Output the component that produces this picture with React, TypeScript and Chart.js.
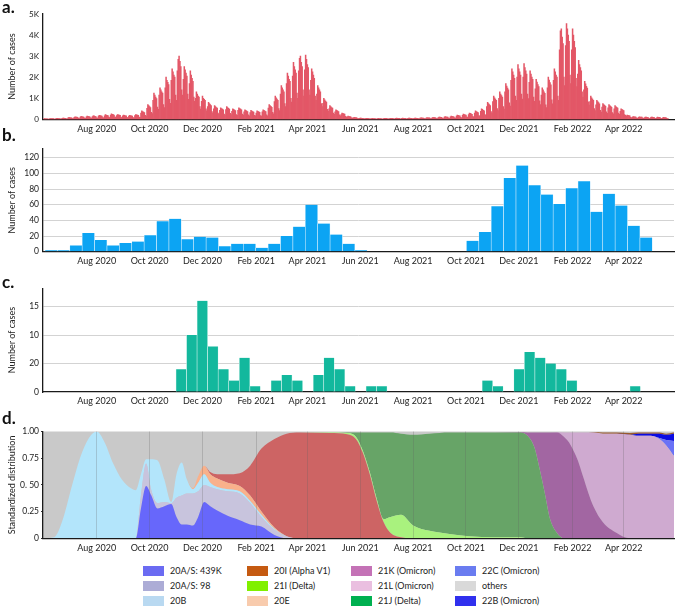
import React, { useEffect, useRef } from 'react';
import { Chart, registerables } from 'chart.js';

Chart.register(...registerables);

const FONT = 'Lato, "Liberation Sans", sans-serif';
const X_MIN = -1;
const X_MAX = 727;

// x axis: days since 1 June 2020
const monthTickDays = [61, 122, 183, 245, 304, 365, 426, 487, 548, 610, 669];
const monthTickLabels = ['Aug 2020', 'Oct 2020', 'Dec 2020', 'Feb 2021', 'Apr 2021', 'Jun 2021', 'Aug 2021', 'Oct 2021', 'Dec 2021', 'Feb 2022', 'Apr 2022'];

// a. daily cases (one row per week)
const dailyCases = [
  20, 30, 25, 25, 20, 10, 10,
  30, 40, 35, 30, 30, 15, 10,
  40, 50, 45, 40, 35, 20, 15,
  50, 60, 55, 50, 45, 25, 20,
  70, 90, 80, 75, 70, 40, 30,
  90, 120, 110, 100, 95, 50, 40,
  110, 140, 130, 120, 110, 60, 50,
  120, 150, 140, 130, 120, 70, 55,
  130, 170, 160, 145, 135, 75, 60,
  150, 190, 175, 160, 150, 85, 70,
  170, 220, 200, 185, 175, 100, 80,
  200, 260, 240, 220, 205, 120, 95,
  180, 230, 215, 195, 185, 105, 85,
  160, 200, 185, 170, 160, 90, 75,
  150, 190, 180, 165, 150, 85, 70,
  180, 230, 215, 200, 190, 110, 90,
  300, 400, 370, 340, 320, 190, 150,
  520, 700, 650, 600, 560, 330, 270,
  900, 1250, 1150, 1050, 980, 580, 470,
  1150, 1500, 1400, 1300, 1250, 700, 560,
  1500, 2000, 1850, 1750, 1650, 950, 760,
  1850, 2400, 2250, 2100, 2000, 1150, 900,
  2300, 2850, 3000, 2750, 2500, 1400, 1150,
  1900, 2500, 2350, 2200, 2050, 1200, 950,
  1700, 2300, 2100, 1950, 1800, 1050, 850,
  1000, 1300, 1200, 1100, 1050, 600, 480,
  850, 1100, 1000, 950, 900, 500, 400,
  600, 800, 750, 700, 650, 370, 300,
  500, 650, 600, 560, 530, 300, 240,
  420, 550, 510, 480, 450, 250, 200,
  460, 600, 560, 520, 490, 280, 220,
  380, 500, 470, 440, 410, 230, 190,
  420, 550, 510, 480, 450, 250, 200,
  350, 450, 420, 390, 370, 210, 170,
  320, 420, 390, 370, 340, 190, 160,
  300, 400, 380, 350, 330, 180, 150,
  350, 450, 420, 390, 370, 210, 170,
  530, 700, 650, 610, 570, 330, 260,
  840, 1100, 1020, 960, 900, 510, 410,
  1200, 1600, 1500, 1400, 1300, 750, 600,
  1700, 2200, 2050, 1900, 1800, 1000, 820,
  2050, 2700, 2500, 2350, 2200, 1250, 1000,
  2300, 2900, 3000, 2700, 2500, 1400, 1100,
  2350, 3050, 2850, 2600, 2450, 1400, 1150,
  1850, 2400, 2250, 2100, 1950, 1100, 900,
  1200, 1600, 1500, 1400, 1300, 750, 600,
  760, 1000, 930, 870, 820, 470, 380,
  500, 650, 600, 560, 530, 300, 240,
  350, 450, 420, 390, 370, 210, 170,
  230, 300, 280, 260, 250, 140, 110,
  120, 150, 140, 130, 120, 70, 55,
  70, 90, 85, 80, 75, 40, 35,
  45, 60, 55, 50, 50, 30, 25,
  40, 50, 45, 45, 40, 25, 20,
  35, 45, 40, 40, 35, 20, 15,
  35, 45, 40, 40, 35, 20, 15,
  40, 50, 45, 45, 40, 25, 20,
  40, 50, 45, 45, 40, 25, 20,
  45, 55, 50, 50, 45, 25, 20,
  45, 55, 50, 50, 45, 25, 20,
  45, 60, 55, 50, 50, 30, 25,
  45, 60, 55, 50, 50, 30, 25,
  55, 70, 65, 60, 55, 30, 25,
  60, 80, 75, 70, 65, 35, 30,
  70, 90, 85, 80, 75, 40, 35,
  85, 110, 100, 95, 90, 50, 40,
  100, 130, 120, 110, 105, 60, 50,
  115, 150, 140, 130, 120, 70, 55,
  150, 200, 185, 170, 160, 90, 75,
  190, 250, 230, 215, 200, 115, 95,
  230, 300, 280, 260, 240, 140, 110,
  300, 400, 370, 340, 320, 180, 150,
  380, 500, 470, 430, 400, 230, 190,
  600, 800, 750, 700, 650, 370, 300,
  840, 1100, 1020, 960, 900, 510, 410,
  1000, 1300, 1200, 1130, 1060, 600, 480,
  1300, 1700, 1580, 1480, 1400, 780, 630,
  1850, 2400, 2250, 2100, 1950, 1100, 900,
  2000, 2600, 2400, 2250, 2100, 1200, 960,
  2000, 2650, 2450, 2300, 2150, 1200, 980,
  1750, 2300, 2150, 2000, 1900, 1050, 850,
  1450, 1900, 1770, 1650, 1550, 880, 700,
  1150, 1500, 1400, 1300, 1230, 690, 560,
  1500, 2000, 1860, 1740, 1640, 920, 740,
  1850, 2400, 2250, 2100, 2000, 1100, 900,
  3300, 4200, 4300, 3900, 3600, 2000, 1600,
  3500, 4550, 4300, 4000, 3700, 2100, 1700,
  3300, 4300, 4000, 3700, 3400, 1950, 1550,
  2150, 2800, 2600, 2450, 2300, 1300, 1050,
  1400, 1800, 1680, 1570, 1480, 830, 670,
  840, 1100, 1020, 960, 900, 510, 410,
  690, 900, 840, 790, 740, 420, 340,
  580, 750, 700, 660, 620, 350, 280,
  540, 700, 650, 610, 570, 320, 260,
  500, 650, 600, 570, 530, 300, 240,
  380, 500, 470, 440, 410, 230, 190,
  150, 200, 190, 175, 165, 90, 75,
  100, 130, 120, 115, 105, 60, 50,
  90, 120, 110, 105, 100, 55, 45,
  85, 110, 100, 95, 90, 50, 40,
  85, 110, 100, 95, 90, 50, 40,
  75, 100, 95, 90, 80, 45, 40,
  70, 90, 85, 80, 75, 40, 35,
];
const aTickLabels = ['0', '1K', '2K', '3K', '4K', '5K'];

// b. sequenced cases per bin
const bFirstDay = 1.3;
const bBinDays = 14.3;
const bCases = [2, 2, 8, 24, 15, 8, 11, 13, 21, 39, 42, 16, 19, 18, 7, 10, 10, 5, 10, 20, 32, 60, 36, 22, 10, 2,
  0, 0, 0, 0, 0, 0, 0, 0,
  14, 25, 58, 94, 110, 85, 73, 61, 81, 90, 51, 74, 59, 33, 18];
const bTickLabels = ['0', '20', '40', '60', '80', '100', '120'];

// c. cases per bin
const cFirstDay = 152.4;
const cBinDays = 12.18;
const cCases = [4, 10, 16, 8, 4, 2, 6, 1, 0, 2, 3, 2, 0, 3, 6, 4, 1, 0, 1, 1,
  0, 0, 0, 0, 0, 0, 0, 0, 0, 2, 1, 0, 4, 7, 6, 5, 4, 2, 0, 0, 0, 0, 0, 1];
const cTickLabels = ['0', '20', '10', '15'];

// d. standardized distribution of clades
const dDays = [0, 12, 22, 32, 42, 52, 61, 70, 80, 90, 100, 106, 112, 118, 124, 131, 139, 147, 153, 159,
  165, 172, 178, 185, 192, 200, 212, 226, 238, 251, 266, 280, 295, 330, 350, 360, 368, 376, 384, 392,
  400, 412, 426, 445, 468, 490, 520, 550, 558, 566, 572, 578, 584, 592, 600, 608, 616, 622, 628, 634,
  645, 661, 676, 686, 700, 710, 718, 727];
const s439K = [0, 0, 0, 0, 0, 0, 0, 0, 0, 0, 0, 0, 0.28, 0.49, 0.40, 0.28, 0.30, 0.32, 0.20, 0.13,
  0.13, 0.12, 0.20, 0.34, 0.30, 0.26, 0.21, 0.17, 0.13, 0.11, 0.03, 0, 0, 0, 0, 0, 0, 0, 0, 0,
  0, 0, 0, 0, 0, 0, 0, 0, 0, 0, 0, 0, 0, 0, 0, 0, 0, 0, 0, 0, 0, 0, 0, 0, 0, 0, 0, 0];
const s98 = [0, 0, 0, 0, 0, 0, 0, 0, 0, 0, 0, 0, 0.12, 0.21, 0.05, 0.05, 0.04, 0.01, 0.18, 0.27,
  0.29, 0.30, 0.24, 0.16, 0.18, 0.20, 0.23, 0.25, 0.20, 0.09, 0.05, 0.02, 0, 0, 0, 0, 0, 0, 0, 0,
  0, 0, 0, 0, 0, 0, 0, 0, 0, 0, 0, 0, 0, 0, 0, 0, 0, 0, 0, 0, 0, 0, 0, 0, 0, 0, 0, 0];
const s20B = [0, 0.01, 0.18, 0.48, 0.76, 0.94, 1.0, 0.90, 0.70, 0.55, 0.47, 0.45, 0.20, 0.04, 0.29, 0.40, 0.21, 0.01, 0.22, 0.31,
  0.13, 0.04, 0.08, 0.10, 0.04, 0.02, 0.02, 0.02, 0.02, 0.02, 0.01, 0, 0, 0, 0, 0, 0, 0, 0, 0,
  0, 0, 0, 0, 0, 0, 0, 0, 0, 0, 0, 0, 0, 0, 0, 0, 0, 0, 0, 0, 0, 0, 0, 0, 0, 0, 0, 0];
const s20E = [0, 0, 0, 0, 0, 0, 0, 0, 0, 0, 0, 0, 0, 0, 0, 0, 0, 0, 0, 0,
  0, 0.01, 0.06, 0.08, 0.08, 0.08, 0.06, 0.05, 0.05, 0.03, 0.01, 0, 0, 0, 0, 0, 0, 0, 0, 0,
  0, 0, 0, 0, 0, 0, 0, 0, 0, 0, 0, 0, 0, 0, 0, 0, 0, 0, 0, 0, 0, 0, 0, 0, 0, 0, 0, 0];
const sAlpha = [0, 0, 0, 0, 0, 0, 0, 0, 0, 0, 0, 0, 0, 0, 0, 0, 0, 0, 0, 0,
  0, 0, 0, 0, 0.02, 0.04, 0.08, 0.12, 0.28, 0.59, 0.83, 0.96, 0.99, 0.985, 0.975, 0.93, 0.80, 0.60, 0.35, 0.15,
  0.05, 0.01, 0, 0, 0, 0, 0, 0, 0, 0, 0, 0, 0, 0, 0, 0, 0, 0, 0, 0, 0, 0, 0, 0, 0, 0, 0, 0];
const s21I = [0, 0, 0, 0, 0, 0, 0, 0, 0, 0, 0, 0, 0, 0, 0, 0, 0, 0, 0, 0,
  0, 0, 0, 0, 0, 0, 0, 0, 0, 0, 0, 0, 0, 0.005, 0.01, 0.02, 0.02, 0.02, 0.02, 0.03,
  0.15, 0.21, 0.12, 0.07, 0.04, 0.02, 0.01, 0.01, 0, 0, 0, 0, 0, 0, 0, 0, 0, 0, 0, 0, 0, 0, 0, 0, 0, 0, 0, 0];
const s21J = [0, 0, 0, 0, 0, 0, 0, 0, 0, 0, 0, 0, 0, 0, 0, 0, 0, 0, 0, 0,
  0, 0, 0, 0, 0, 0, 0, 0, 0, 0, 0, 0, 0, 0, 0.005, 0.04, 0.17, 0.37, 0.62, 0.81,
  0.79, 0.76, 0.85, 0.91, 0.95, 0.97, 0.98, 0.98, 0.96, 0.85, 0.65, 0.42, 0.18, 0.05, 0, 0, 0, 0, 0, 0,
  0, 0, 0, 0, 0, 0, 0, 0];
const s21K = [0, 0, 0, 0, 0, 0, 0, 0, 0, 0, 0, 0, 0, 0, 0, 0, 0, 0, 0, 0,
  0, 0, 0, 0, 0, 0, 0, 0, 0, 0, 0, 0, 0, 0, 0, 0, 0, 0, 0, 0,
  0, 0, 0, 0, 0, 0, 0, 0.005, 0.03, 0.14, 0.34, 0.57, 0.81, 0.94, 0.95, 0.87, 0.73, 0.58, 0.43, 0.30,
  0.15, 0.05, 0, 0, 0, 0, 0, 0];
const s21L = [0, 0, 0, 0, 0, 0, 0, 0, 0, 0, 0, 0, 0, 0, 0, 0, 0, 0, 0, 0,
  0, 0, 0, 0, 0, 0, 0, 0, 0, 0, 0, 0, 0, 0, 0, 0, 0, 0, 0, 0,
  0, 0, 0, 0, 0, 0, 0, 0, 0, 0, 0, 0, 0, 0.005, 0.04, 0.12, 0.26, 0.41, 0.56, 0.69,
  0.83, 0.93, 0.97, 0.96, 0.96, 0.93, 0.87, 0.77];
const s22C = [0, 0, 0, 0, 0, 0, 0, 0, 0, 0, 0, 0, 0, 0, 0, 0, 0, 0, 0, 0,
  0, 0, 0, 0, 0, 0, 0, 0, 0, 0, 0, 0, 0, 0, 0, 0, 0, 0, 0, 0,
  0, 0, 0, 0, 0, 0, 0, 0, 0, 0, 0, 0, 0, 0, 0, 0, 0, 0, 0, 0,
  0, 0, 0, 0, 0, 0.01, 0.05, 0.14];
const s22B = [0, 0, 0, 0, 0, 0, 0, 0, 0, 0, 0, 0, 0, 0, 0, 0, 0, 0, 0, 0,
  0, 0, 0, 0, 0, 0, 0, 0, 0, 0, 0, 0, 0, 0, 0, 0, 0, 0, 0, 0,
  0, 0, 0, 0, 0, 0, 0, 0, 0, 0, 0, 0, 0, 0, 0, 0, 0, 0, 0, 0,
  0, 0, 0, 0.02, 0.02, 0.04, 0.05, 0.07];
const sOtherTop = [0, 0, 0, 0, 0, 0, 0, 0, 0, 0, 0, 0, 0, 0, 0, 0, 0, 0, 0, 0,
  0, 0, 0, 0, 0, 0, 0, 0, 0, 0, 0, 0, 0, 0, 0, 0, 0, 0, 0, 0,
  0, 0, 0, 0, 0, 0, 0, 0, 0, 0, 0, 0, 0, 0, 0, 0, 0, 0, 0, 0.005,
  0.01, 0.01, 0.015, 0.01, 0.01, 0.01, 0.01, 0.01];
const dTickLabels = ['0', '0.25', '0. 50', '0.75', '1.00'];

const dSeries = [
  { label: '20A/S: 439K', data: s439K, color: '#6767fb' },
  { label: '20A/S: 98', data: s98, color: '#c8c4dd' },
  { label: '20B', data: s20B, color: '#b3e5fb' },
  { label: '20E', data: s20E, color: '#f9b18b' },
  { label: '20I (Alpha V1)', data: sAlpha, color: '#cd6464' },
  { label: '21I (Delta)', data: s21I, color: '#a9f27e' },
  { label: '21J (Delta)', data: s21J, color: '#67a467' },
  { label: '21K (Omicron)', data: s21K, color: '#a266a2' },
  { label: '21L (Omicron)', data: s21L, color: '#cfaad0' },
  { label: '22C (Omicron)', data: s22C, color: '#6a72f6' },
  { label: '22B (Omicron)', data: s22B, color: '#0b0be2' },
  { label: 'other lineages', data: sOtherTop, color: '#9a5a2e' },
];
const OTHERS_BG = '#c9c9c9';

// legend (4 columns x 3 rows)
const legendLabels = [
  ['20A/S: 439K', '20A/S: 98', '20B'],
  ['20I (Alpha V1)', '21I (Delta)', '20E'],
  ['21K (Omicron)', '21L (Omicron)', '21J (Delta)'],
  ['22C (Omicron)', 'others', '22B (Omicron)'],
];
const legendColors = [
  ['#6b6bf2', '#acacd6', '#b9d9f1'],
  ['#c55a11', '#80f000', '#f8cbad'],
  ['#c472b6', '#eabfe0', '#00b050'],
  ['#6a7cf0', '#d9d9d9', '#3030ee'],
];

const AXIS_COLOR = '#1a1a1a';
const TEXT_COLOR = '#222';

function xScale(extra: any = {}) {
  return {
    type: 'linear',
    min: X_MIN,
    max: X_MAX,
    offset: false,
    afterBuildTicks: (s: any) => {
      s.ticks = monthTickDays.map((v) => ({ value: v }));
    },
    afterFit: (s: any) => {
      s.height = 16;
    },
    ticks: {
      autoSkip: false,
      maxRotation: 0,
      padding: 4,
      color: TEXT_COLOR,
      font: { family: FONT, size: 9 },
      callback: (_v: any, i: number) => monthTickLabels[i],
    },
    grid: { display: false, drawTicks: false, offset: false },
    border: { display: true, color: AXIS_COLOR, width: 1.3 },
    ...extra,
  };
}

function yScale(max: number, step: number, labels: string[], title: string, fontSize: number, extra: any = {}) {
  return {
    min: 0,
    max,
    afterFit: (s: any) => {
      s.width = 43;
    },
    ticks: {
      stepSize: step,
      includeBounds: false,
      padding: 4,
      color: TEXT_COLOR,
      font: { family: FONT, size: fontSize },
      callback: (_v: any, i: number) => labels[i],
    },
    grid: { display: false, drawTicks: false },
    border: { display: true, color: AXIS_COLOR, width: 1.3 },
    title: {
      display: true,
      text: title,
      color: TEXT_COLOR,
      font: { family: FONT, size: 9 },
      padding: { top: 7, bottom: 0 },
    },
    ...extra,
  };
}

const baseOptions = (padding: any) => ({
  responsive: false,
  animation: false as const,
  devicePixelRatio: 1,
  layout: { padding },
  plugins: { legend: { display: false }, tooltip: { enabled: false } },
});

const othersBackground = {
  id: 'othersBackground',
  beforeDraw(chart: any) {
    const { ctx, chartArea } = chart;
    if (!chartArea) return;
    ctx.save();
    ctx.fillStyle = OTHERS_BG;
    ctx.fillRect(chartArea.left, chartArea.top, chartArea.right - chartArea.left, chartArea.bottom - chartArea.top);
    ctx.restore();
  },
};

const W = 676;
const panels = [
  { top: 0, height: 140, padding: { left: 0, right: 2, top: 14, bottom: 4.7 } },
  { top: 140, height: 130, padding: { left: 0, right: 2, top: 7.3, bottom: 2.3 } },
  { top: 270, height: 140, padding: { left: 0, right: 2, top: 18.3, bottom: 2 } },
  { top: 410, height: 150, padding: { left: 0, right: 2, top: 21.5, bottom: 5.7 } },
];

export default function App() {
  const refA = useRef<HTMLCanvasElement>(null);
  const refB = useRef<HTMLCanvasElement>(null);
  const refC = useRef<HTMLCanvasElement>(null);
  const refD = useRef<HTMLCanvasElement>(null);

  useEffect(() => {
    const charts: Chart[] = [];

    charts.push(
      new Chart(refA.current as HTMLCanvasElement, {
        type: 'bar',
        data: {
          datasets: [
            {
              data: dailyCases.map((v, i) => ({ x: i, y: v })),
              backgroundColor: '#e35767',
              borderWidth: 0,
              barPercentage: 1,
              categoryPercentage: 1,
            },
          ],
        },
        options: {
          ...baseOptions(panels[0].padding),
          scales: {
            x: xScale(),
            y: yScale(5000, 1000, aTickLabels, 'Number of cases', 8),
          },
        } as any,
      })
    );

    charts.push(
      new Chart(refB.current as HTMLCanvasElement, {
        type: 'bar',
        data: {
          datasets: [
            {
              data: bCases.map((v, i) => ({ x: bFirstDay + bBinDays * (i + 0.5), y: v })),
              backgroundColor: '#0ca4f3',
              borderColor: '#d8effc',
              borderWidth: { left: 0.6, right: 0.6, top: 0, bottom: 0 },
              borderSkipped: 'start',
              barPercentage: 1,
              categoryPercentage: 1,
            },
          ],
        },
        options: {
          ...baseOptions(panels[1].padding),
          scales: {
            x: xScale(),
            y: yScale(131, 20, bTickLabels, 'Number of cases', 8.5, {
              grid: {
                display: true,
                drawTicks: false,
                color: (ctx: any) => (ctx.tick && ctx.tick.value === 0 ? 'rgba(0,0,0,0)' : '#d3d3d3'),
                lineWidth: 1,
              },
            }),
          },
        } as any,
      })
    );

    charts.push(
      new Chart(refC.current as HTMLCanvasElement, {
        type: 'bar',
        data: {
          datasets: [
            {
              data: cCases.map((v, i) => ({ x: cFirstDay + cBinDays * (i + 0.5), y: v })),
              backgroundColor: '#13b89d',
              borderColor: '#d6f3ee',
              borderWidth: { left: 0.6, right: 0.6, top: 0, bottom: 0 },
              borderSkipped: 'start',
              barPercentage: 1,
              categoryPercentage: 1,
            },
          ],
        },
        options: {
          ...baseOptions(panels[2].padding),
          scales: {
            x: xScale(),
            y: yScale(18.2, 5, cTickLabels, 'Number of cases', 8.5, {
              grid: {
                display: true,
                drawTicks: false,
                color: (ctx: any) => (ctx.tick && ctx.tick.value === 0 ? 'rgba(0,0,0,0)' : '#d3d3d3'),
                lineWidth: 1,
              },
            }),
          },
        } as any,
      })
    );

    charts.push(
      new Chart(refD.current as HTMLCanvasElement, {
        type: 'line',
        data: {
          datasets: dSeries.map((s, k) => ({
            label: s.label,
            data: s.data.map((v, i) => ({ x: dDays[i], y: v })),
            backgroundColor: s.color,
            borderColor: 'rgba(0,0,0,0)',
            borderWidth: 0.01,
            pointRadius: 0,
            fill: k === 0 ? 'origin' : '-1',
            cubicInterpolationMode: 'monotone',
            stack: 'clades',
          })),
        },
        options: {
          ...baseOptions(panels[3].padding),
          scales: {
            x: xScale({
              grid: {
                display: true,
                drawOnChartArea: true,
                drawTicks: false,
                color: 'rgba(95,95,95,0.25)',
                lineWidth: 1,
                offset: false,
                z: 1,
              },
              border: { display: true, color: AXIS_COLOR, width: 1.3, z: 2 },
            }),
            y: yScale(1, 0.25, dTickLabels, 'Standardized distribution', 8.5, {
              stacked: true,
              grid: { display: true, drawOnChartArea: false, drawTicks: true, tickLength: 2, color: '#333' },
              border: { display: true, color: AXIS_COLOR, width: 1.3, z: 2 },
              ticks: {
                stepSize: 0.25,
                includeBounds: false,
                padding: 2,
                color: TEXT_COLOR,
                font: { family: FONT, size: 8.5 },
                callback: (_v: any, i: number) => dTickLabels[i],
              },
            }),
          },
        } as any,
        plugins: [othersBackground],
      })
    );

    return () => {
      charts.forEach((c) => c.destroy());
    };
  }, []);

  const canvasStyle = (top: number, height: number): React.CSSProperties => ({
    position: 'absolute',
    left: 0,
    top,
    width: W,
    height,
  });

  const panelLabel = (text: string, top: number): React.ReactNode => (
    <div
      key={text}
      style={{
        position: 'absolute',
        left: 2,
        top,
        fontFamily: FONT,
        fontWeight: 700,
        fontSize: 17,
        lineHeight: '17px',
        color: '#111',
      }}
    >
      {text}
    </div>
  );

  const colX = [143, 247, 351, 455];
  const rowY = [565, 580, 595];

  return (
    <div
      style={{
        position: 'absolute',
        left: 0,
        top: 0,
        width: W,
        height: 608,
        overflow: 'hidden',
        background: '#ffffff',
      }}
    >
      <canvas ref={refA} width={W} height={panels[0].height} style={canvasStyle(panels[0].top, panels[0].height)} />
      <canvas ref={refB} width={W} height={panels[1].height} style={canvasStyle(panels[1].top, panels[1].height)} />
      <canvas ref={refC} width={W} height={panels[2].height} style={canvasStyle(panels[2].top, panels[2].height)} />
      <canvas ref={refD} width={W} height={panels[3].height} style={canvasStyle(panels[3].top, panels[3].height)} />
      {panelLabel('a.', -2)}
      {panelLabel('b.', 126)}
      {panelLabel('c.', 273)}
      {panelLabel('d.', 409)}
      {legendLabels.map((col, ci) =>
        col.map((label, ri) => (
          <div
            key={label}
            style={{
              position: 'absolute',
              left: colX[ci],
              top: rowY[ri],
              height: 11,
              display: 'flex',
              alignItems: 'center',
              fontFamily: FONT,
              fontSize: 9,
              color: TEXT_COLOR,
              whiteSpace: 'nowrap',
            }}
          >
            <span
              style={{
                display: 'inline-block',
                width: 21,
                height: 10,
                background: legendColors[ci][ri],
                marginRight: 6,
              }}
            />
            <span>{label}</span>
          </div>
        ))
      )}
    </div>
  );
}
